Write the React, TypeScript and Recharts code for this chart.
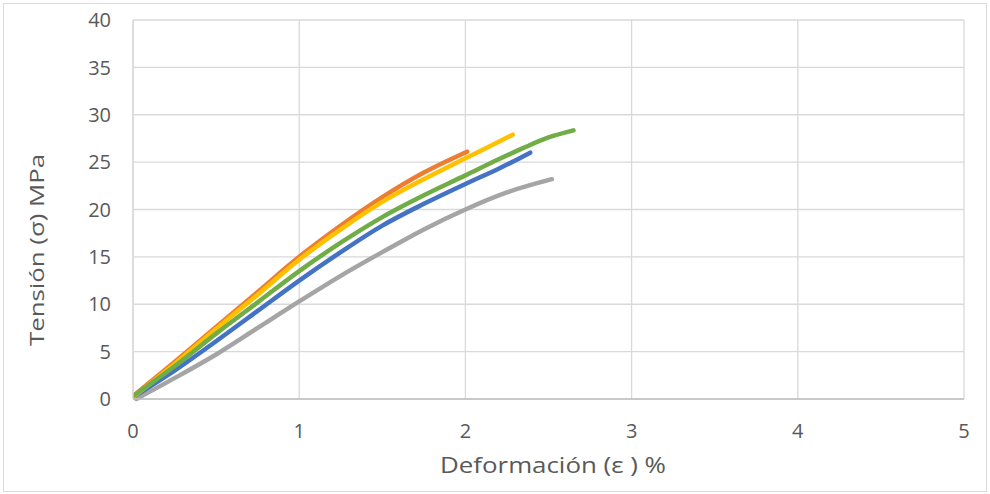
import React from 'react';
import { LineChart, Line, XAxis, YAxis, CartesianGrid } from 'recharts';

// strain (%) vs stress (MPa)
const grayX = [0.02, 0.25, 0.5, 0.75, 1.0, 1.25, 1.5, 1.75, 2.0, 2.25, 2.52];
const grayY = [0, 2.2, 4.7, 7.5, 10.3, 13.0, 15.5, 17.9, 20.0, 21.8, 23.2];

const blueX = [0, 0.25, 0.5, 0.75, 1.0, 1.25, 1.5, 1.75, 2.0, 2.2, 2.39];
const blueY = [0.2, 3.0, 6.1, 9.3, 12.5, 15.5, 18.3, 20.6, 22.7, 24.3, 26.0];

const orangeX = [0, 0.25, 0.5, 0.75, 1.0, 1.25, 1.5, 1.75, 2.01];
const orangeY = [0.3, 3.9, 7.6, 11.3, 15.0, 18.3, 21.3, 23.9, 26.1];

const yellowX = [0, 0.25, 0.5, 0.75, 1.0, 1.25, 1.5, 1.75, 2.0, 2.15, 2.285];
const yellowY = [0.2, 3.7, 7.4, 11.0, 14.7, 17.9, 20.8, 23.2, 25.4, 26.7, 27.9];

const greenX = [0, 0.25, 0.5, 0.75, 1.0, 1.25, 1.5, 1.75, 2.0, 2.2, 2.35, 2.5, 2.65];
const greenY = [0.3, 3.45, 6.9, 10.2, 13.5, 16.5, 19.2, 21.5, 23.6, 25.3, 26.5, 27.6, 28.35];

const xTicks = [0, 1, 2, 3, 4, 5];
const yTicks = [0, 5, 10, 15, 20, 25, 30, 35, 40];

const toPoints = (xs: number[], ys: number[]) => xs.map((x, i) => ({ x, y: ys[i] }));

const series = [
  { name: 'gray', color: '#A5A5A5', data: toPoints(grayX, grayY) },
  { name: 'blue', color: '#4472C4', data: toPoints(blueX, blueY) },
  { name: 'orange', color: '#ED7D31', data: toPoints(orangeX, orangeY) },
  { name: 'yellow', color: '#FFC000', data: toPoints(yellowX, yellowY) },
  { name: 'green', color: '#70AD47', data: toPoints(greenX, greenY) },
];

const FONT = '"Open Sans", "DejaVu Sans", sans-serif';
const TEXT = '#595959';

function YTick(props: any) {
  const { y, payload } = props;
  return (
    <text x={111} y={y} dy="0.36em" textAnchor="end" fontFamily={FONT} fontSize={20} fill={TEXT}>
      {payload.value}
    </text>
  );
}

function XTick(props: any) {
  const { x, payload } = props;
  return (
    <text x={x} y={438} textAnchor="middle" fontFamily={FONT} fontSize={20} fill={TEXT}>
      {payload.value}
    </text>
  );
}

function YTitle() {
  return (
    <text
      x={36}
      y={250}
      transform="rotate(-90 36 250)"
      textAnchor="middle"
      dominantBaseline="central"
      fontFamily={FONT}
      fontSize={20}
      fill={TEXT}
      textLength={192}
      lengthAdjust="spacingAndGlyphs"
    >
      Tensión (σ)  MPa
    </text>
  );
}

function XTitle() {
  return (
    <text
      x={553}
      y={473}
      textAnchor="middle"
      fontFamily={FONT}
      fontSize={21}
      fill={TEXT}
      textLength={226}
      lengthAdjust="spacingAndGlyphs"
    >
      Deformación (ε ) %
    </text>
  );
}

export default function App() {
  return (
    <div style={{ position: 'fixed', left: 0, top: 0, width: 990, height: 494, background: '#fff' }}>
      <div
        style={{
          position: 'absolute',
          left: 3,
          top: 3,
          width: 982,
          height: 487,
          border: '1px solid #d9d9d9',
        }}
      />
      <div style={{ position: 'absolute', left: 0, top: 0 }}>
        <LineChart width={990} height={494} margin={{ top: 20, right: 26, left: 0, bottom: 0 }}>
          <CartesianGrid stroke="#d9d9d9" strokeWidth={1.3} />
          <XAxis
            type="number"
            dataKey="x"
            domain={[0, 5]}
            ticks={xTicks}
            allowDataOverflow
            height={95}
            axisLine={{ stroke: '#bfbfbf', strokeWidth: 1.3 }}
            tickLine={false}
            tick={<XTick />}
            label={<XTitle />}
          />
          <YAxis
            type="number"
            dataKey="y"
            domain={[0, 40]}
            ticks={yTicks}
            width={133}
            axisLine={{ stroke: '#d9d9d9', strokeWidth: 1.3 }}
            tickLine={false}
            tick={<YTick />}
            label={<YTitle />}
          />
          {series.map((s) => (
            <Line
              key={s.name}
              data={s.data}
              dataKey="y"
              type="monotone"
              stroke={s.color}
              strokeWidth={4.5}
              strokeLinecap="round"
              dot={false}
              activeDot={false}
              isAnimationActive={false}
            />
          ))}
        </LineChart>
      </div>
    </div>
  );
}
